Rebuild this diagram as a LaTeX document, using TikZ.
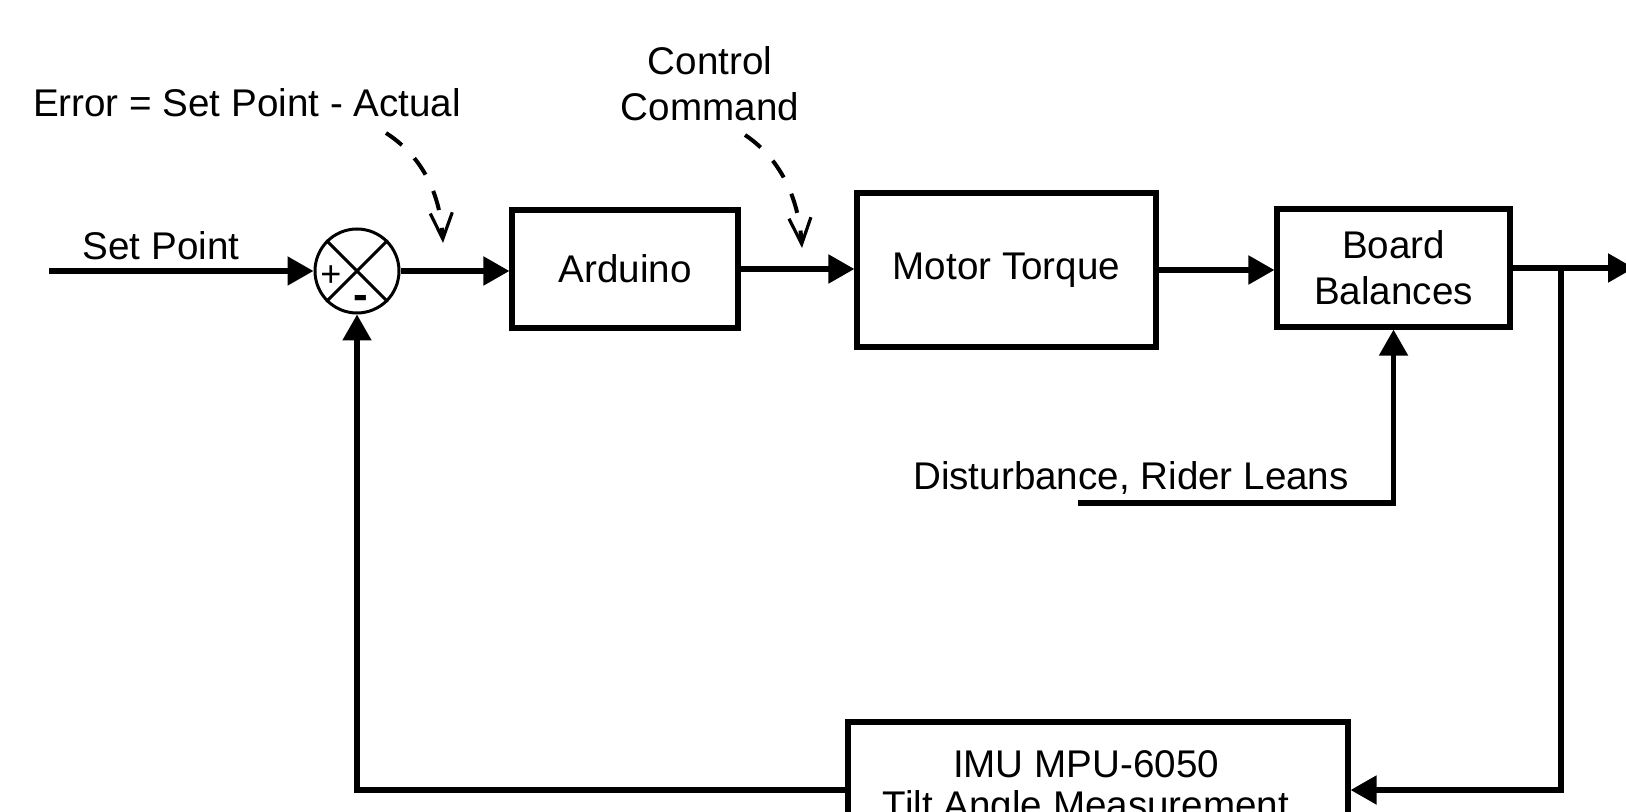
\documentclass[tikz,border=0pt]{standalone}
\usepackage{fontspec}
\setmainfont{Liberation Sans}
\usetikzlibrary{arrows.meta}
\begin{document}
\begin{tikzpicture}[x=0.5pt,y=-0.5pt,
  lbl/.style={font=\fontsize{19.3pt}{23pt}\selectfont, inner sep=0pt, align=center},
  blk/.style={draw, line width=2.6pt, inner sep=0pt, align=center, font=\fontsize{19.3pt}{23pt}\selectfont},
  sig/.style={line width=2.6pt, -{Triangle[length=13pt,width=14pt]}},
  hint/.style={line width=2pt, dash pattern=on 10pt off 9pt, -{Straight Barb[length=13pt,width=11pt,line width=1.6pt]}}
]
\useasboundingbox (0,0) rectangle (1626,812);
\fill[white] (0,0) rectangle (1626,812);

% summing junction
\node[draw, circle, line width=1.5pt, minimum size=42pt, inner sep=0pt] (sum) at (357,271) {};
\draw[line width=1.5pt] (sum.north west) -- (sum.south east) (sum.north east) -- (sum.south west);
\node[font=\fontsize{18pt}{18pt}\selectfont, inner sep=0pt] (plus) at (331,276) {+};
\node[font=\fontsize{22pt}{22pt}\selectfont\bfseries, inner sep=0pt] (minus) at (361,302) {-};

% blocks
\node[blk, minimum width=113pt, minimum height=59pt] (ard) at (625,269) {Arduino};
\node[blk, minimum width=149.5pt, minimum height=77pt] (mot) at (1006.5,270) {Motor Torque};
\node[blk, minimum width=116.5pt, minimum height=59pt] (brd) at (1393.5,268) {Board\\Balances};
\node[draw, line width=2.6pt, minimum width=250pt, minimum height=78pt, inner sep=0pt] (imu) at (1098,800) {};
\node[lbl] (imu1) at (1086,764) {IMU MPU-6050};
\node[lbl] (imu2) at (1086,809) {Tilt Angle Measurement};

% labels
\node[lbl] (sp) at (161,246) {Set Point};
\node[lbl] (err) at (247,103) {Error = Set Point - Actual};
\node[lbl] (cc) at (710,84) {Control\\Command};
\node[lbl] (distl) at (1131,478) {Disturbance, Rider Leans};

% coordinates
\coordinate (spin) at (49,271);
\coordinate (out) at (1634,272);
\coordinate (fbr) at (1561,790);
\coordinate (dist) at (1078,503);
\coordinate (e1) at (386,133);
\coordinate (e2) at (443,243);
\coordinate (c1) at (745,135);
\coordinate (c2) at (802,248);

% signals
\draw[sig] (spin) -- (sum.west);
\draw[sig] (sum.east) -- (sum.east -| ard.west);
\draw[sig] (ard.east) -- (ard.east -| mot.west);
\draw[sig] (mot.east) -- (mot.east -| brd.west);
\draw[sig] (brd.east) -- (brd.east -| out);
\draw[sig] (brd.east -| fbr) -- (fbr) -- (fbr -| imu.east);
\draw[sig] (dist) -| (brd.south);
\draw[sig] (fbr -| imu.west) -| (sum.south);

% dashed hints
\draw[hint] (e1) .. controls (420,155) and (440,190) .. (e2);
\draw[hint] (c1) .. controls (775,155) and (798,190) .. (c2);
\end{tikzpicture}
\end{document}
